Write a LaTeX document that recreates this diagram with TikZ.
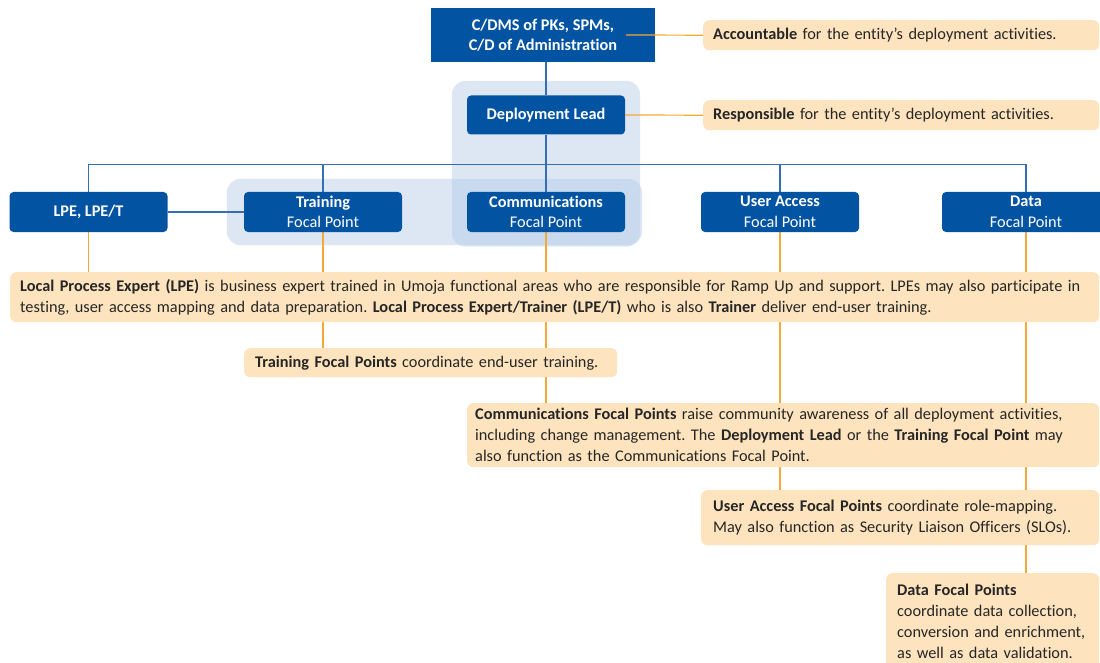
\documentclass[tikz,border=0pt]{standalone}
\usepackage{fontspec}
\setmainfont{Carlito}[Ligatures = NoCommon]
\usepackage{xcolor}
\usepackage{tikz}
\usetikzlibrary{positioning, fit, backgrounds}
\definecolor{umblue}{RGB}{3,83,163}
\definecolor{linkblue}{RGB}{52,110,180}
\definecolor{tieorange}{RGB}{246,168,52}
\definecolor{notefill}{RGB}{253,228,190}
\definecolor{notetext}{RGB}{38,38,38}
\definecolor{zoneblue}{RGB}{170,196,228}
\frenchspacing
\tikzset{
    unit/.style={
        fill = umblue, text = white,
        rounded corners = 4pt,
        minimum width = 158pt,
        minimum height = 40pt,
        inner sep = 1pt,
        align = center,
        font = \fontsize{16.3}{20.5}\selectfont
    },
    note/.style={
        fill = notefill, text = notetext,
        rounded corners = 6pt,
        anchor = north west,
        align = left,
        inner xsep = 10pt, inner ysep = 0pt
    },
    zone/.style = {fill = zoneblue, fill opacity = 0.4, rounded corners = 14pt},
    link/.style = {draw = linkblue, line width = 1.4pt},
    tie/.style = {draw = tieorange, line width = 1.2pt}
}

\begin{document}
\begin{tikzpicture}[x = 1pt, y = -1pt, font = \fontsize{16.3}{21}\selectfont]
    \useasboundingbox (0,0) rectangle (1100,663);

                            \node[unit, rounded corners = 0pt, minimum width = 224pt, minimum height = 54pt, font = \fontsize{16.3}{19.5}\selectfont] (head) at (543,35) {\textbf{C/DMS of PKs, SPMs,}\\\textbf{C/D of Administration}};
                            \node[unit, minimum height = 39pt] (lead) at (546,115) {\textbf{Deployment Lead}};
                            \node[unit] (lpe) at (88.5,212) {\textbf{LPE, LPE/T}};
                            \node[unit] (train) at (323,212) {\textbf{Training}\\Focal Point};
                            \node[unit] (comm) at (546,212) {\textbf{Communications}\\Focal Point};
                            \node[unit] (ua) at (780,212) {\textbf{User Access}\\Focal Point};
                            \node[unit, minimum width = 168pt] (data) at (1026,212) {\textbf{Data}\\Focal Point};

                            \node[note, text width = 376pt, minimum height = 30pt] (acc) at (703,20) {\textbf{Accountable} for the entity’s deployment activities.};
                            \node[note, text width = 376pt, minimum height = 30pt] (resp) at (703,100) {\textbf{Responsible} for the entity’s deployment activities.};
                            \node[note, text width = 1069pt, minimum height = 50pt] (lpenote) at (10,272) {\textbf{Local Process Expert (LPE)} is business expert trained in Umoja functional areas who are responsible for Ramp Up and support. LPEs may also participate in\\testing, user access mapping and data preparation. \textbf{Local Process Expert/Trainer (LPE/T)} who is also \textbf{Trainer} deliver end-user training.};
                            \node[note, text width = 351pt, minimum height = 29pt, inner xsep = 11pt] (trainnote) at (244,348) {\textbf{Training Focal Points} coordinate end-user training.};
                            \node[note, text width = 616pt, minimum height = 64pt, inner xsep = 8pt] (commnote) at (467,403) {\textbf{Communications Focal Points} raise community awareness of all deployment activities,\\including change management. The \textbf{Deployment Lead} or the \textbf{Training Focal Point} may\\also function as the Communications Focal Point.};
                            \node[note, text width = 374pt, minimum height = 55pt, inner xsep = 12pt] (uanote) at (701,490) {\textbf{User Access Focal Points} coordinate role-mapping.\\May also function as Security Liaison Officers (SLOs).};
                            \node[note, text width = 191pt, minimum height = 97pt, inner xsep = 11pt] (datanote) at (886,573) {\textbf{Data Focal Points}\\coordinate data collection,\\conversion and enrichment,\\as well as data validation.};

                            \draw[tie] ([xshift = -29pt]head.east) -- (acc.west);
                            \draw[tie] (lead.east) -- (resp.west);

                            \begin{scope}[on background layer]
                                \node[zone, fit = (lead)(comm), inner xsep = 15pt, inner ysep = 14.5pt] (leadzone) {};
                                \node[zone, fit = (train)(comm), inner xsep = 17pt, inner ysep = 13pt] (teamzone) {};

                                \draw[link] (head.south -| lead.north) -- (lead.north);
                                \draw[link] (lead.south) -- (comm.north);
                                \draw[link] (lpe.north) -- ++(0,-27) -| (data.north);
                                \draw[link] (train.north) -- ++(0,-27);
                                \draw[link] (ua.north) -- ++(0,-27);
                                \draw[link] (lpe.east) -- (train.west);

                                \draw[tie] (lpe.south) -- (lpe.south |- lpenote.north);
                                \draw[tie] (train.south) -- (train.south |- trainnote.north);
                                \draw[tie] (comm.south) -- (comm.south |- commnote.north);
                                \draw[tie] (ua.south) -- (ua.south |- uanote.north);
                                \draw[tie] (data.south) -- (data.south |- datanote.north);
                            \end{scope}

                        \end{tikzpicture}
\end{document}
